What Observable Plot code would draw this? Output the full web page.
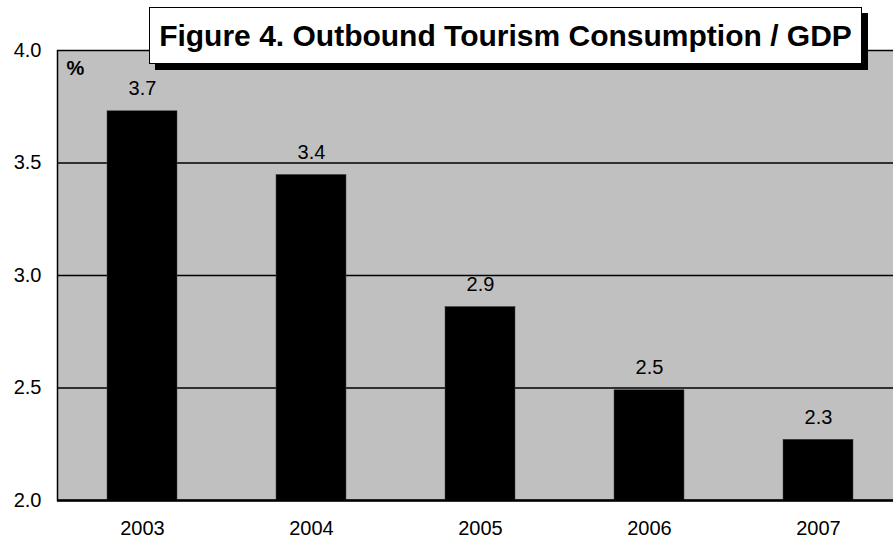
<!DOCTYPE html>
<html>
<head>
<meta charset="utf-8">
<script src="https://cdn.jsdelivr.net/npm/d3@7"></script>
<script src="https://cdn.jsdelivr.net/npm/@observablehq/plot@0.6"></script>
<style>
  html, body { margin: 0; padding: 0; background: white; }
  #wrap { position: relative; width: 893px; height: 541px; overflow: hidden; }
  #title {
    position: absolute; left: 149px; top: 7px; width: 711px; height: 55px;
    border: 1.5px solid black; background: white; box-shadow: 6px 6px 0 black;
    font-family: "Liberation Sans", Arial, sans-serif; font-weight: bold; font-size: 30px;
    display: flex; align-items: center; justify-content: center; white-space: nowrap;
  }
  svg { display: block; overflow: hidden; }
</style>
</head>
<body>
<div id="wrap">
  <div id="chart"></div>
  <div id="title">Figure 4. Outbound Tourism Consumption / GDP</div>
</div>
<script>
const years = ["2003", "2004", "2005", "2006", "2007"];
const values = [3.73, 3.447, 2.86, 2.49, 2.27];
const yTicks = [2.0, 2.5, 3.0, 3.5, 4.0];
const gridValues = [2.5, 3.0, 3.5];
const unitLabel = "%";

const data = years.map((year, i) => ({year, value: values[i]}));

const chart = Plot.plot({
  width: 893,
  height: 541,
  marginLeft: 57,
  marginRight: -10,
  marginTop: 50,
  marginBottom: 41,
  style: {fontFamily: "'Liberation Sans', Arial, sans-serif", fontSize: "20px", color: "black", background: "white", overflow: "hidden"},
  x: {domain: years, paddingInner: 0.586, paddingOuter: 0.293, label: null},
  y: {domain: [2, 4], label: null},
  marks: [
    Plot.frame({fill: "#c0c0c0", stroke: "black", strokeWidth: 1.5}),
    Plot.ruleY(gridValues, {stroke: "black", strokeWidth: 1.5}),
    Plot.barY(data, {x: "year", y1: 2, y2: "value", fill: "black", stroke: "#444", strokeWidth: 0.5}),
    Plot.ruleY([2], {stroke: "black", strokeWidth: 2.5}),
    Plot.text(data, {x: "year", y: "value", text: d => d.value.toFixed(1), dy: -16, lineAnchor: "bottom", fontSize: 20}),
    Plot.text([unitLabel], {frameAnchor: "top-left", dx: 9, dy: 10, lineAnchor: "top", textAnchor: "start", fontWeight: "bold", fontSize: 20}),
    Plot.axisX({tickSize: 0, tickPadding: 20, fontSize: 20, label: null}),
    Plot.axisY({ticks: yTicks, tickSize: 0, tickPadding: 16, tickFormat: d3.format(".1f"), fontSize: 20, label: null})
  ]
});
document.getElementById("chart").appendChild(chart);
</script>
</body>
</html>
